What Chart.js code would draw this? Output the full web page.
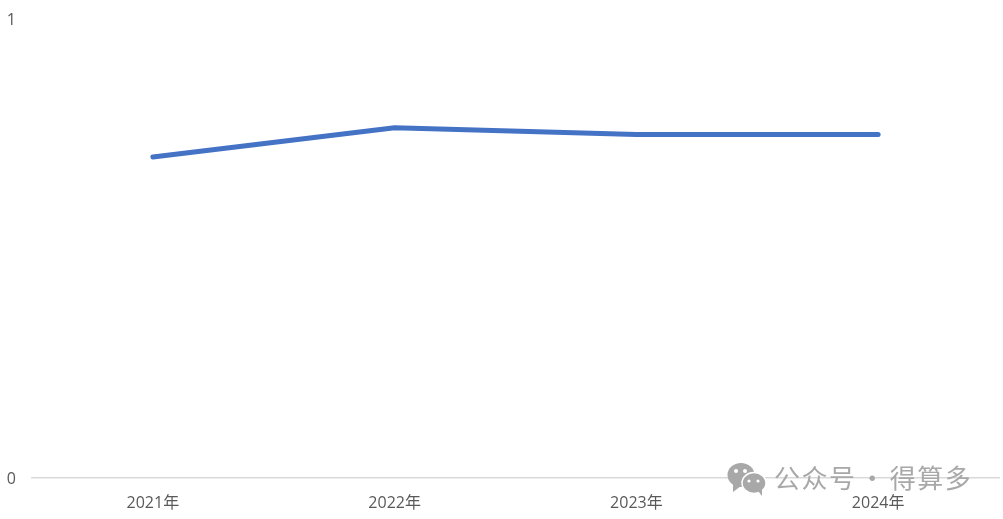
<!DOCTYPE html>
<html>
<head>
<meta charset="utf-8">
<style>
html,body{margin:0;padding:0;background:#fff;overflow:hidden}
#wrap{position:relative;width:1003px;height:519px}
#wm{position:absolute;left:727px;top:459px;height:38px;display:flex;align-items:center}
#wmt{position:absolute;left:47px;top:2px;white-space:nowrap;font:26px "Noto Sans CJK SC";line-height:32px;color:#a8a8a8;letter-spacing:1.5px;word-spacing:-4.5px}
</style>
<script src="https://cdn.jsdelivr.net/npm/chart.js@4"></script>
</head>
<body>
<div id="wrap">
<canvas id="c" width="1003" height="519"></canvas>
<div id="wm">
<svg width="40" height="38" viewBox="0 0 40 38">
<ellipse cx="14" cy="16" rx="13.5" ry="12" fill="#a8a8a8"/>
<path d="M6 24 L6 33 L14 27 Z" fill="#a8a8a8"/>
<ellipse cx="27" cy="24" rx="12" ry="10.5" fill="#a8a8a8" stroke="#fff" stroke-width="1.5"/>
<path d="M31 32 L35 37 L35 30 Z" fill="#a8a8a8"/>
<circle cx="9" cy="12" r="2" fill="#fff"/><circle cx="18" cy="12" r="2" fill="#fff"/>
<circle cx="22" cy="22" r="1.6" fill="#fff"/><circle cx="31" cy="22" r="1.6" fill="#fff"/>
</svg>
<div id="wmt">公众号 · 得算多</div>
</div>
</div>
<script>
const categories = ["2021年","2022年","2023年","2024年"];
const values = [0.699,0.763,0.748,0.748];
const yTicks = [0,1];
const fontFamily = '"Open Sans","Noto Sans CJK SC",sans-serif';
new Chart(document.getElementById('c'),{
  type:'line',
  data:{labels:categories,datasets:[{data:values,borderColor:'#4472c4',borderWidth:5,borderCapStyle:'round',borderJoinStyle:'round',pointRadius:0,tension:0,fill:false}]},
  options:{
    responsive:false,animation:false,
    layout:{padding:{top:19,right:4,bottom:0,left:0}},
    plugins:{legend:{display:false},tooltip:{enabled:false}},
    scales:{
      x:{
        offset:true,
        grid:{display:false,drawTicks:false},
        border:{display:true,color:'#d9d9d9',width:1.5},
        ticks:{color:'#595959',font:{family:fontFamily,size:16},padding:16,maxRotation:0},
        afterFit(a){a.height=41.5;a.paddingLeft=0;a.paddingRight=0;}
      },
      y:{
        min:0,max:1,
        grid:{display:false,drawTicks:false},
        border:{display:false},
        afterBuildTicks(a){a.ticks=yTicks.map(v=>({value:v}));},
        ticks:{color:'#595959',font:{family:fontFamily,size:16},padding:16,labelOffset:1.5,callback:v=>String(v)},
        afterFit(a){a.width=32;a.paddingTop=0;a.paddingBottom=0;}
      }
    }
  }
});
</script>
</body>
</html>
